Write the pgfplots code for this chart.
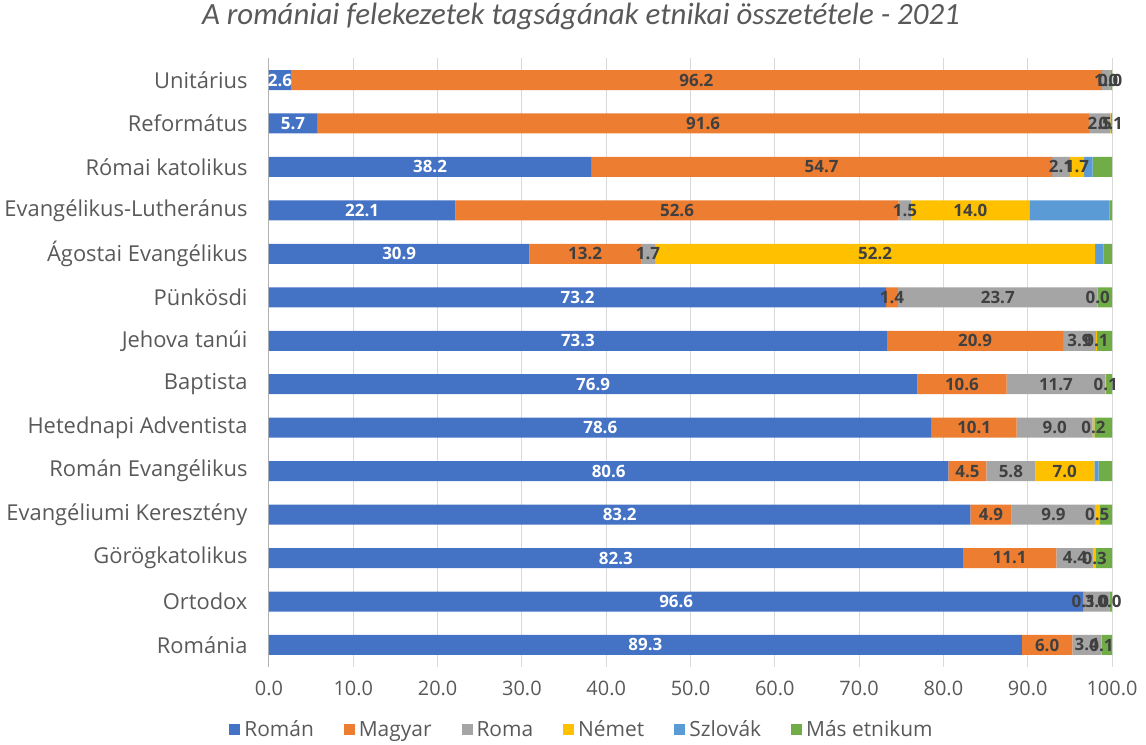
\documentclass[border=0pt]{standalone}
\usepackage{fontspec}
\setmainfont{Open Sans}
\newfontfamily\titlefont{Carlito}
\usepackage{pgfplots}
\usepackage{pgfplotstable}
\pgfplotsset{compat=1.18}
\definecolor{cRoman}{HTML}{4472C4}
\definecolor{cMagyar}{HTML}{ED7D31}
\definecolor{cRoma}{HTML}{A5A5A5}
\definecolor{cNemet}{HTML}{FFC000}
\definecolor{cSzlovak}{HTML}{5B9BD5}
\definecolor{cMas}{HTML}{70AD47}
\definecolor{textgray}{HTML}{595959}
\definecolor{labelgray}{HTML}{404040}
\definecolor{gridgray}{HTML}{D9D9D9}

\pgfplotstableread{
idx R M Ro N Sz Ma
13 2.6 96.2 1.0 0.0 0.0 0.2
12 5.7 91.6 2.5 0.1 0.0 0.1
11 38.2 54.7 2.1 1.7 1.0 2.3
10 22.1 52.6 1.5 14.0 9.5 0.3
9 30.9 13.2 1.7 52.2 1.0 1.0
8 73.2 1.4 23.7 0.0 0.0 1.7
7 73.3 20.9 3.9 0.1 0.0 1.8
6 76.9 10.6 11.7 0.1 0.0 0.7
5 78.6 10.1 9.0 0.2 0.0 2.1
4 80.6 4.5 5.8 7.0 0.5 1.6
3 83.2 4.9 9.9 0.5 0.0 1.5
2 82.3 11.1 4.4 0.3 0.0 1.9
1 96.6 0.1 3.0 0.0 0.0 0.3
0 89.3 6.0 3.4 0.1 0.0 1.2
}\data

\begin{document}
\begin{tikzpicture}
\pgfplotsset{
  base/.style={
    width=843bp, height=608.4bp, scale only axis,
    xmin=0, xmax=100, ymin=-0.5, ymax=13.5,
    /pgf/number format/assume math mode=true,
  },
  lbl/.style={
    only marks, mark=*, mark size=0pt, mark options={draw=none,fill=none},
    nodes near coords={\pgfmathprintnumber[fixed,fixed zerofill,precision=1]{\pgfplotspointmeta}},
    point meta=explicit,
    every node near coord/.append style={anchor=center, inner sep=0pt,
      font=\fontsize{17}{20}\selectfont\bfseries, text=#1},
  },
}
\begin{axis}[base, name=ax,
  xbar stacked, bar width=20bp,
  axis line style={draw=none},
  tick style={draw=none},
  xmajorgrids, grid style={gridgray, line width=1bp},
  extra x ticks={0}, extra x tick labels={},
  extra x tick style={grid style={color=black!30, line width=1bp}},
  xtick={0,10,...,100},
  xticklabels={0.0,10.0,20.0,30.0,40.0,50.0,60.0,70.0,80.0,90.0,100.0},
  xticklabel style={font=\fontsize{20}{24}\selectfont, text=textgray, yshift=-11bp},
  ytick={0,...,13},
  yticklabels={Románia,Ortodox,Görögkatolikus,Evangéliumi Keresztény,Román Evangélikus,Hetednapi Adventista,Baptista,Jehova tanúi,Pünkösdi,Ágostai Evangélikus,Evangélikus-Lutheránus,Római katolikus,Református,Unitárius},
  yticklabel style={font=\fontsize{22}{24}\selectfont, text=textgray, xshift=-18bp},
  title={\titlefont\itshape A romániai felekezetek tagságának etnikai összetétele - 2021},
  title style={at={(0.37,1)}, anchor=base, yshift=28bp, font=\fontsize{31}{34}\selectfont, text=textgray},
  legend columns=-1,
  legend style={at={(0.3725,0)}, anchor=center, yshift=-63bp, draw=none, fill=none,
    font=\fontsize{21}{24}\selectfont, text=textgray,
    nodes={inner xsep=4bp, inner ysep=1bp},
    /tikz/every even column/.append style={column sep=26bp}},
  legend image code/.code={\fill[#1] (0bp,-5bp) rectangle (11bp,6bp);},
]
\addplot[fill=cRoman, draw=none] table[x=R, y=idx]{\data};
\addlegendentry{Román}
\addplot[fill=cMagyar, draw=none] table[x=M, y=idx]{\data};
\addlegendentry{Magyar}
\addplot[fill=cRoma, draw=none] table[x=Ro, y=idx]{\data};
\addlegendentry{Roma}
\addplot[fill=cNemet, draw=none] table[x=N, y=idx]{\data};
\addlegendentry{Német}
\addplot[fill=cSzlovak, draw=none] table[x=Sz, y=idx]{\data};
\addlegendentry{Szlovák}
\addplot[fill=cMas, draw=none] table[x=Ma, y=idx]{\data};
\addlegendentry{Más etnikum}
\end{axis}
\begin{axis}[base, hide axis, clip=false]
\addplot[lbl=white] table[x expr=\thisrow{R}/2, y=idx, meta=R]{\data};
\addplot[lbl=labelgray] table[x expr=\thisrow{R}+\thisrow{M}/2, y=idx, meta=M]{\data};
\addplot[lbl=labelgray] table[x expr=\thisrow{R}+\thisrow{M}+\thisrow{Ro}/2, y=idx, meta=Ro]{\data};
\addplot[lbl=labelgray] table[x expr=\thisrow{R}+\thisrow{M}+\thisrow{Ro}+\thisrow{N}/2, y=idx, meta=N]{\data};
\end{axis}
\pgfresetboundingbox
\path ([xshift=-269bp, yshift=-78.3bp]ax.south west) rectangle ([xshift=34bp, yshift=58.3bp]ax.north east);
\end{tikzpicture}
\end{document}
